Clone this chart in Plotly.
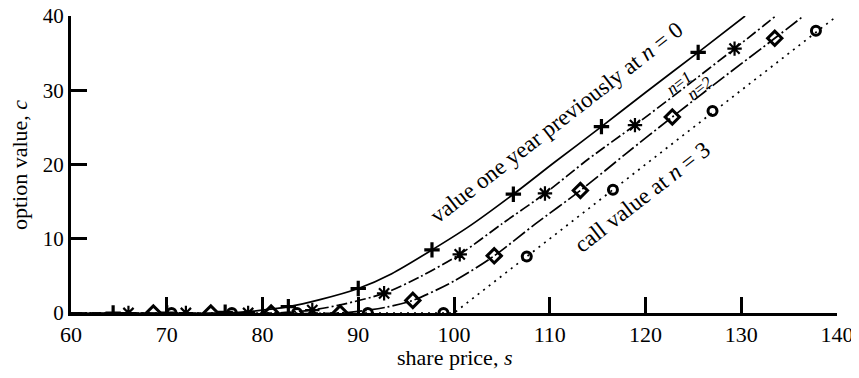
import plotly.graph_objects as go

# ---- data ----
# smooth option-value curves
s_n0 = [60, 76, 79, 82.7, 86, 90, 93.5, 97.7, 101.5, 106.2, 110.5, 115.4, 120, 125.5, 130.4]
c_n0 = [0, 0, 0.25, 0.85, 1.8, 3.3, 5.3, 8.5, 11.6, 16.0, 20.3, 25.1, 29.7, 35.1, 40]

s_n1 = [60, 81, 83, 85.2, 88.5, 92.7, 96.5, 100.6, 105, 109.5, 114, 118.9, 124, 129.3, 133.6]
c_n1 = [0, 0, 0.12, 0.4, 1.2, 2.65, 4.9, 7.9, 12.0, 16.1, 20.7, 25.3, 30.3, 35.6, 40]

s_n2 = [60, 88, 90.5, 93, 95.7, 100, 104.2, 108.5, 113.2, 118, 122.8, 128, 133.5, 136.5]
c_n2 = [0, 0, 0.3, 0.8, 1.7, 4.3, 7.7, 12.0, 16.5, 21.5, 26.4, 31.6, 37.0, 40]

s_n3 = [60, 100, 140]
c_n3 = [0, 0, 40]

# binomial nodes (markers)
node_s_n0 = [64.4, 70.0, 76.1, 82.7, 90.0, 97.7, 106.2, 115.4, 125.5]
node_c_n0 = [0, 0, 0.1, 0.85, 3.3, 8.5, 16.0, 25.1, 35.1]

node_s_n1 = [66.0, 72.0, 78.5, 85.2, 92.7, 100.6, 109.5, 118.9, 129.3]
node_c_n1 = [0, 0, 0, 0.4, 2.65, 7.9, 16.1, 25.3, 35.6]

node_s_n2 = [68.6, 74.6, 80.9, 88.1, 95.7, 104.2, 113.2, 122.8, 133.5]
node_c_n2 = [0, 0, 0, 0, 1.7, 7.7, 16.5, 26.4, 37.0]

node_s_n3 = [70.5, 76.8, 83.6, 91.0, 98.9, 107.6, 116.6, 127.0, 137.8]
node_c_n3 = [0, 0, 0, 0, 0, 7.6, 16.6, 27.2, 38.0]

x_ticks = [60, 70, 80, 90, 100, 110, 120, 130, 140]
y_ticks = [0, 10, 20, 30, 40]

FONT = "Liberation Serif, Times New Roman, serif"
BLACK = "#000000"

fig = go.Figure()

# curves
fig.add_trace(go.Scatter(x=s_n0, y=c_n0, mode="lines",
                         line=dict(color=BLACK, width=1.7, shape="spline", smoothing=0.8, dash="solid")))
fig.add_trace(go.Scatter(x=s_n1, y=c_n1, mode="lines",
                         line=dict(color=BLACK, width=1.7, shape="spline", smoothing=0.8, dash="11px,3px,2px,3px")))
fig.add_trace(go.Scatter(x=s_n2, y=c_n2, mode="lines",
                         line=dict(color=BLACK, width=1.7, shape="spline", smoothing=0.8, dash="15px,3px,2px,3px")))
fig.add_trace(go.Scatter(x=s_n3, y=c_n3, mode="lines",
                         line=dict(color=BLACK, width=1.7, dash="2px,5px")))

# markers
fig.add_trace(go.Scatter(x=node_s_n0, y=node_c_n0, mode="markers",
                         marker=dict(symbol="cross-thin-open", size=11, color=BLACK,
                                     line=dict(color=BLACK, width=3.2))))
fig.add_trace(go.Scatter(x=node_s_n1, y=node_c_n1, mode="markers",
                         marker=dict(symbol="asterisk-open", size=12, color=BLACK,
                                     line=dict(color=BLACK, width=2.2))))
fig.add_trace(go.Scatter(x=node_s_n2, y=node_c_n2, mode="markers",
                         marker=dict(symbol="diamond-open", size=11, color=BLACK,
                                     line=dict(color=BLACK, width=3))))
fig.add_trace(go.Scatter(x=node_s_n3, y=node_c_n3, mode="markers",
                         marker=dict(symbol="circle-open", size=9, color=BLACK,
                                     line=dict(color=BLACK, width=3))))

ANG = -37.8
fig.add_annotation(x=110.7, y=25.7, xref="x", yref="y", showarrow=False, textangle=ANG,
                   text="value one year previously at <i>n</i> = 0",
                   font=dict(family=FONT, size=23, color=BLACK))
fig.add_annotation(x=123.6, y=31.0, xref="x", yref="y", showarrow=False, textangle=ANG,
                   text="<i>n</i>=<i>1</i>", font=dict(family=FONT, size=17, color=BLACK))
fig.add_annotation(x=125.6, y=30.3, xref="x", yref="y", showarrow=False, textangle=ANG,
                   text="<i>n</i>=<i>2</i>", font=dict(family=FONT, size=17, color=BLACK))
fig.add_annotation(x=119.6, y=15.6, xref="x", yref="y", showarrow=False, textangle=ANG,
                   text="call value at <i>n</i> = 3",
                   font=dict(family=FONT, size=23, color=BLACK))

# page offset of the plotly div inside the html body
OFF = 8
W, H = 859 - OFF, 378 - OFF
# plot area in page pixels: left 71, right 837.5, top 16, bottom 313
ML, MR, MT, MB = 71 - OFF, 859 - 837.5, 16 - OFF, 378 - 313
pw, ph = W - ML - MR, H - MT - MB


def paper_xy(px, py):
    # page pixel -> paper coordinates
    fx, fy = px - OFF, py - OFF
    return (fx - ML) / pw, (H - MB - fy) / ph


x1, y1 = paper_xy(455, 357)
fig.add_annotation(x=x1, y=y1, xref="paper", yref="paper", showarrow=False,
                   xanchor="center", yanchor="middle",
                   text="share price, <i>s</i>", font=dict(family=FONT, size=22, color=BLACK))
x2, y2 = paper_xy(19, 165)
fig.add_annotation(x=x2, y=y2, xref="paper", yref="paper", showarrow=False, textangle=-90,
                   xanchor="center", yanchor="middle",
                   text="option value, <i>c</i>", font=dict(family=FONT, size=22, color=BLACK))

axis_common = dict(showline=True, linecolor=BLACK, linewidth=3, ticks="inside", ticklen=16,
                   tickwidth=3, tickcolor=BLACK, showgrid=False, zeroline=False,
                   ticklabeloverflow="allow", fixedrange=True)

fig.update_xaxes(range=[60, 140], tickvals=x_ticks, ticktext=[str(v) for v in x_ticks],
                 tickfont=dict(family=FONT, size=22, color=BLACK), **axis_common)
fig.update_yaxes(range=[0, 40], tickvals=y_ticks, ticktext=[str(v) for v in y_ticks],
                 tickfont=dict(family=FONT, size=21, color=BLACK), **axis_common)

fig.update_layout(width=W, height=H, margin=dict(l=ML, r=MR, t=MT, b=MB, autoexpand=False),
                  paper_bgcolor="white", plot_bgcolor="white", showlegend=False,
                  font=dict(family=FONT, color=BLACK))

fig.write_html("out.html")
